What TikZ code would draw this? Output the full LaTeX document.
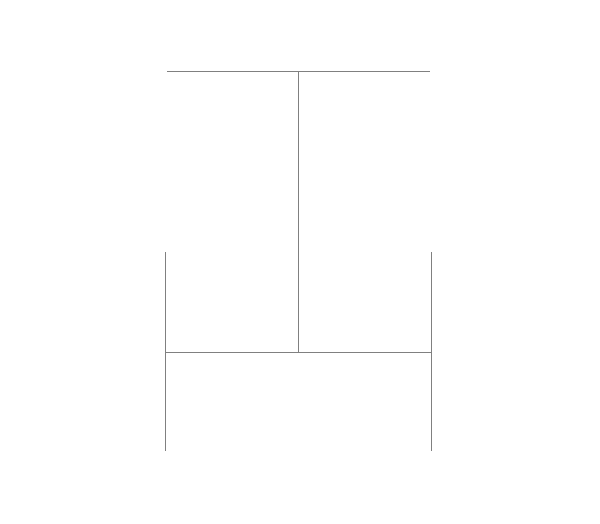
\documentclass[tikz,border=0pt]{standalone}
\begin{document}
\begin{tikzpicture}[x=1pt,y=-1pt,wire/.style={draw=black!50,line width=1pt}]
\useasboundingbox (0,0) rectangle (600,524);
\coordinate (tl) at (167,72);
\coordinate (tr) at (430,72);
\coordinate (tm) at (298,72);
\coordinate (bm) at (298,352);
\coordinate (ml) at (165,352);
\coordinate (mr) at (431,352);
\coordinate (lt) at (165,252);
\coordinate (lb) at (165,451);
\coordinate (rt) at (431,252);
\coordinate (rb) at (431,451);
\draw[wire] (tl) -- (tr);
\draw[wire] (tm) -- (bm);
\draw[wire] (ml) -- (mr);
\draw[wire] (lt) -- (lb);
\draw[wire] (rt) -- (rb);
\end{tikzpicture}
\end{document}
